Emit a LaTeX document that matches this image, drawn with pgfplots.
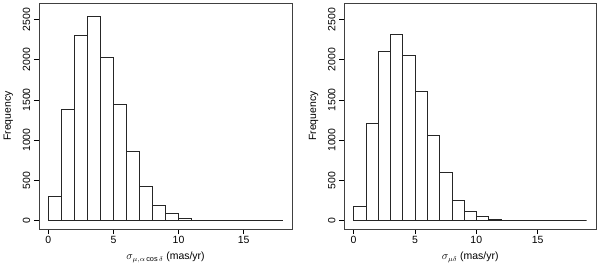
\documentclass[border=0pt]{standalone}
\usepackage{fontspec}
\setmainfont{Liberation Sans}
\usepackage{pgfplots}
\pgfplotsset{compat=1.18}
\begin{document}
\begin{tikzpicture}
\useasboundingbox (0,0) rectangle (600bp,267bp);
\pgfplotsset{
  rstyle/.style={
    scale only axis,
    width=253bp, height=226bp,
    anchor=south west,
    ymin=-104, ymax=2704,
    ytick={0,500,1000,1500,2000,2500},
    xtick={0,5,10,15},
    tick align=outside,
    tick pos=left,
    major tick length=5bp,
    axis line style={black!75, line width=0.6pt},
    tick style={black, line width=0.5pt},
    yticklabel style={rotate=90, anchor=center, font=\fontsize{10.5}{12}\selectfont},
    yticklabel shift=7.5bp,
    xticklabel style={anchor=center, font=\fontsize{10.5}{12}\selectfont},
    xticklabel shift=6bp,
    /pgf/number format/assume math mode=true,
    /pgf/number format/1000 sep={},
    ylabel={\fontsize{10.5}{12}\selectfont Frequency},
    xlabel style={font=\fontsize{10.5}{12}\selectfont, at={(axis description cs:0.5,-0.127)}, anchor=center},
  }
}
\begin{axis}[rstyle, at={(39bp,38bp)}, xmin=-0.72, xmax=18.72,
  ylabel style={at={(axis description cs:-0.1213,0.5)}, anchor=center},
  xlabel={$\sigma_{\mu,\alpha\cos\delta}$ (mas/yr)}]
\addplot[ybar interval, draw=black!85, fill=none, line width=0.5pt] coordinates {
(0,304) (1,1380) (2,2303) (3,2540) (4,2025) (5,1440) (6,860) (7,424) (8,192)
(9,92) (10,30) (11,2) (12,8) (13,1) (14,1) (15,6) (16,1) (17,1) (18,0)};
\end{axis}
\begin{axis}[rstyle, at={(344.3bp,38bp)}, width=251.7bp, xmin=-0.76, xmax=19.76,
  ylabel style={at={(axis description cs:-0.122,0.5)}, anchor=center},
  xlabel={$\sigma_{\mu\delta}$ (mas/yr)}]
\addplot[ybar interval, draw=black!85, fill=none, line width=0.5pt] coordinates {
(0,180) (1,1215) (2,2100) (3,2312) (4,2050) (5,1605) (6,1065) (7,603) (8,254)
(9,121) (10,55) (11,17) (12,1) (13,8) (14,8) (15,0) (16,0) (17,0) (18,0) (19,0)};
\end{axis}
\end{tikzpicture}
\end{document}
